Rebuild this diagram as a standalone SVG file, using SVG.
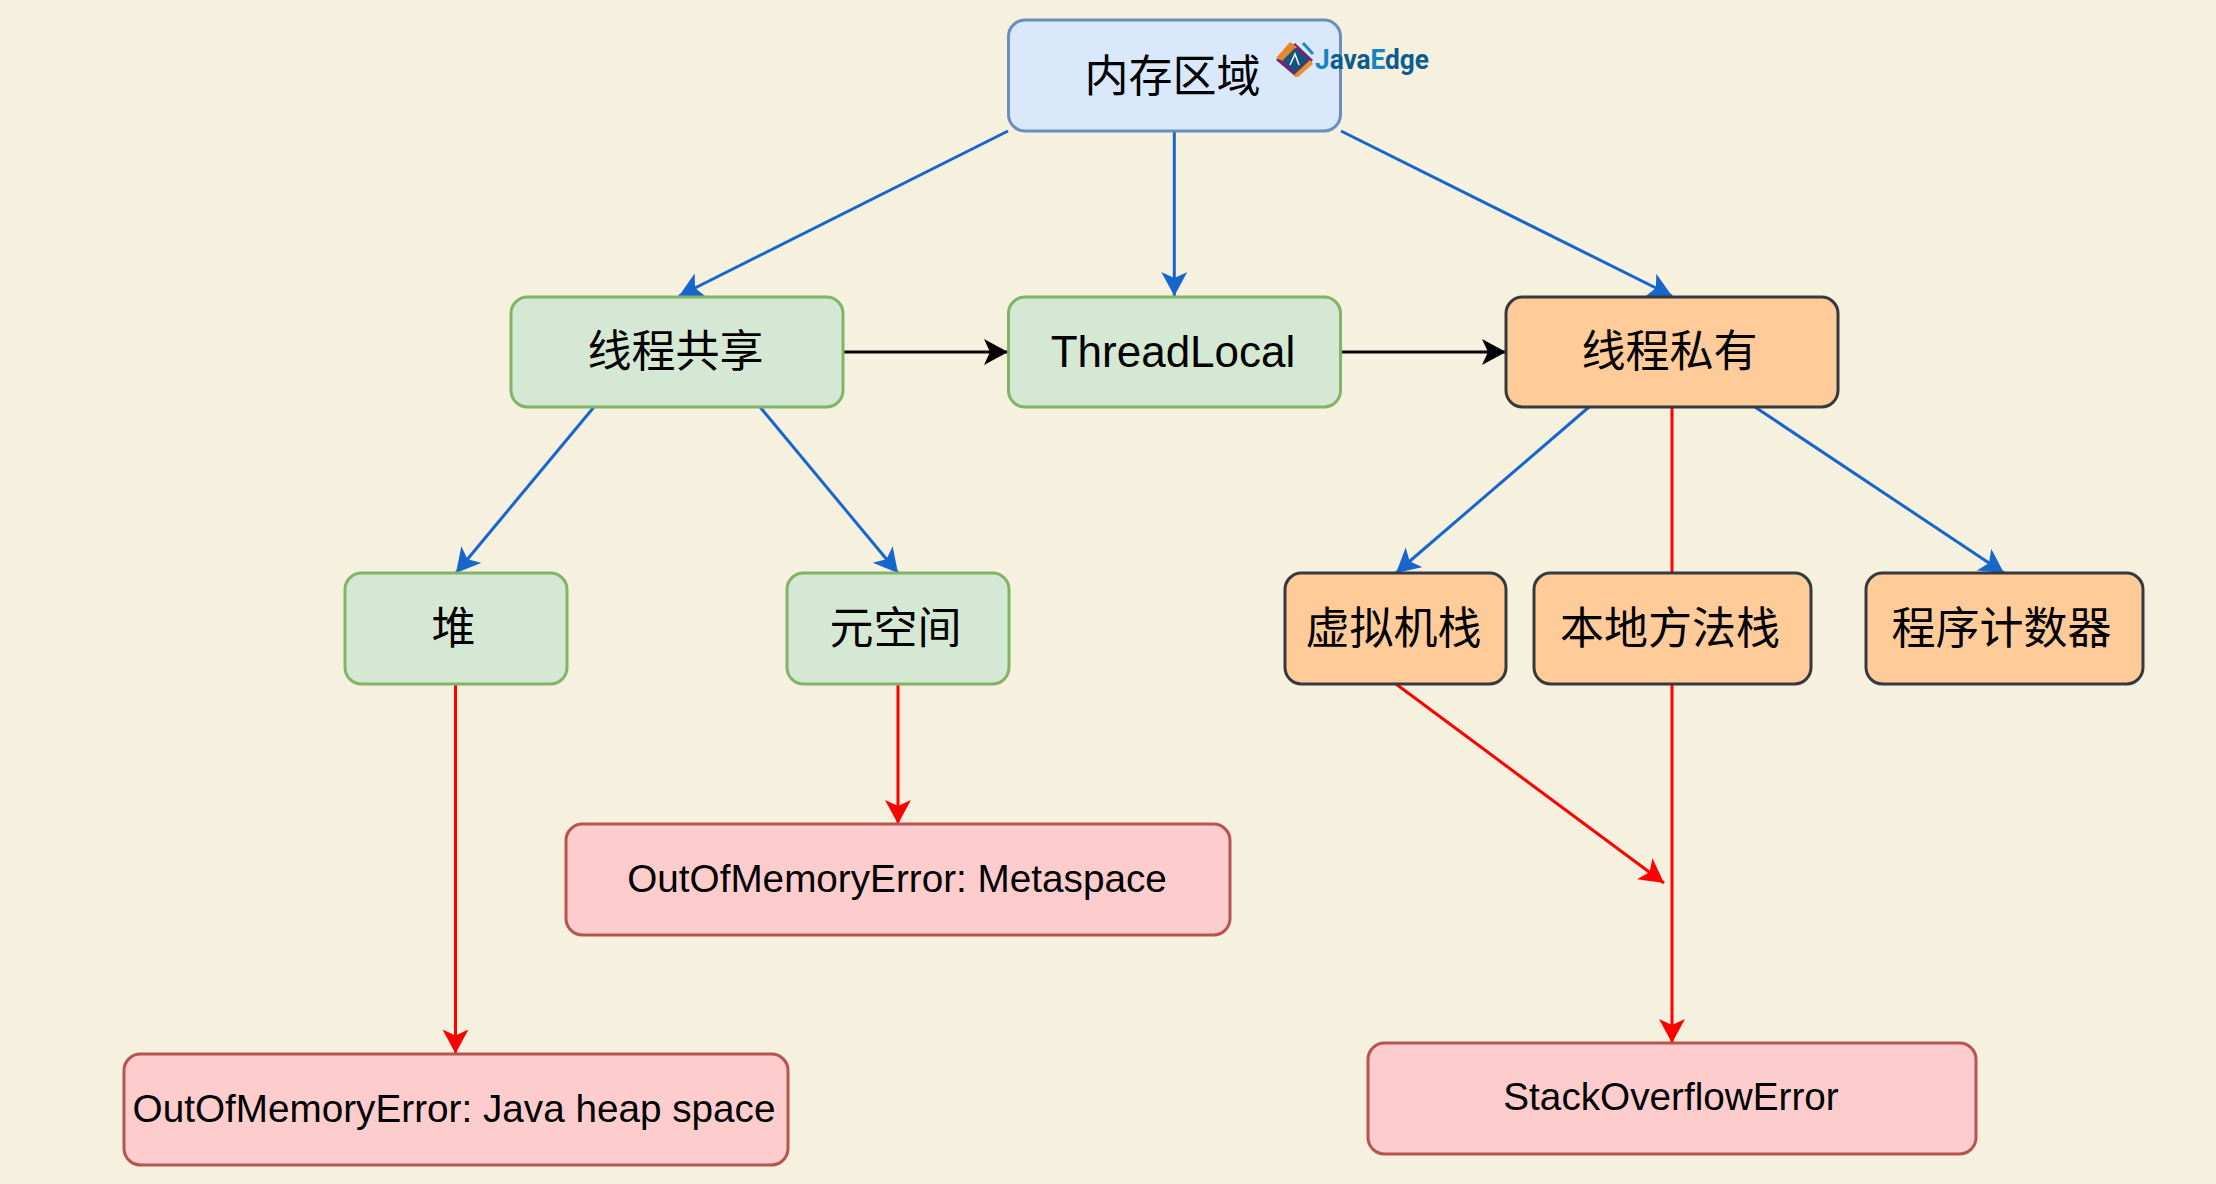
<svg xmlns="http://www.w3.org/2000/svg" width="2216" height="1184" viewBox="0 0 2216 1184">
<style>
.n{stroke-width:3}
.b{fill:#dae8fc;stroke:#6c8ebf}
.g{fill:#d5e8d4;stroke:#82b366}
.o{fill:#ffcc99;stroke:#36393d}
.r{fill:#fdcdce;stroke:#b85450}
text{font-family:"Liberation Sans","Noto Sans CJK SC",sans-serif;text-anchor:middle;fill:#000}
.l{font-size:44px}
.m{font-size:38.700px}
.c{font-family:"Noto Sans CJK SC","Liberation Sans",sans-serif}
.e{fill:none;stroke-width:3}
.eb{stroke:#1766cc;marker-end:url(#ab)}
.ek{stroke:#000;marker-end:url(#ak)}
.er{stroke:#ff0000;marker-end:url(#ar)}
.logo{font-family:Roboto,"Liberation Sans",sans-serif;font-weight:700;font-size:28px;text-anchor:start}
</style>
<defs>
<marker id="ab" markerUnits="userSpaceOnUse" markerWidth="26" markerHeight="28" refX="24" refY="13" orient="auto"><path d="M24 13L0 0L6 13L0 26Z" fill="#1766cc"/></marker>
<marker id="ak" markerUnits="userSpaceOnUse" markerWidth="26" markerHeight="28" refX="24" refY="13" orient="auto"><path d="M24 13L0 0L6 13L0 26Z" fill="#000"/></marker>
<marker id="ar" markerUnits="userSpaceOnUse" markerWidth="26" markerHeight="28" refX="24" refY="13" orient="auto"><path d="M24 13L0 0L6 13L0 26Z" fill="#ff0000"/></marker>
</defs>
<rect width="2216" height="1184" fill="#f6f0df"/>
<g id="connectors">
<path class="e eb" d="M1008 131L679 296"/>
<path class="e eb" d="M1174.300 131V296"/>
<path class="e eb" d="M1341 131L1672 296"/>
<path class="e ek" d="M843 352H1008"/>
<path class="e ek" d="M1341 352H1506"/>
<path class="e eb" d="M594 407L456 573"/>
<path class="e eb" d="M760 407L898 573"/>
<path class="e eb" d="M1589 407L1396 573"/>
<path class="e" stroke="#ff0000" d="M1672 407V573"/>
<path class="e eb" d="M1755 407L2004 573"/>
<path class="e er" d="M455.500 684V1053.500"/>
<path class="e er" d="M898 684V824"/>
<path class="e er" d="M1396 684L1664 883"/>
<path class="e er" d="M1672 684V1043"/>
</g>
<g id="n-memory"><rect class="n b" x="1008.500" y="20" width="332" height="111" rx="16.500"/><text class="l c" x="1172.500" y="92">内存区域</text></g>
<g id="n-shared"><rect class="n g" x="511" y="297" width="332" height="110" rx="16.500"/><text class="l c" x="675.500" y="367">线程共享</text></g>
<g id="n-threadlocal"><rect class="n g" x="1008.500" y="297" width="332" height="110" rx="16.500"/><text class="l" x="1173" y="367">ThreadLocal</text></g>
<g id="n-private"><rect class="n o" x="1506" y="297" width="332" height="110" rx="16.500"/><text class="l c" x="1669.500" y="367">线程私有</text></g>
<g id="n-heap"><rect class="n g" x="345" y="573" width="222" height="111" rx="16.500"/><text class="l c" x="453.500" y="644">堆</text></g>
<g id="n-meta"><rect class="n g" x="787" y="573" width="222" height="111" rx="16.500"/><text class="l c" x="895.500" y="644">元空间</text></g>
<g id="n-vmstack"><rect class="n o" x="1285" y="573" width="221" height="111" rx="16.500"/><text class="l c" x="1393.500" y="644">虚拟机栈</text></g>
<g id="n-native"><rect class="n o" x="1534" y="573" width="277" height="111" rx="16.500"/><text class="l c" x="1670" y="644">本地方法栈</text></g>
<g id="n-pc"><rect class="n o" x="1866" y="573" width="277" height="111" rx="16.500"/><text class="l c" x="2001.500" y="644">程序计数器</text></g>
<g id="n-oom-meta"><rect class="n r" x="566" y="824" width="664" height="111" rx="16.500"/><text class="m" x="897" y="892">OutOfMemoryError: Metaspace</text></g>
<g id="n-oom-heap"><rect class="n r" x="124" y="1054" width="664" height="111" rx="16.500"/><text class="m" x="454" y="1122">OutOfMemoryError: Java heap space</text></g>
<g id="n-soe"><rect class="n r" x="1368" y="1043" width="608" height="111" rx="16.500"/><text class="m" x="1671" y="1110">StackOverflowError</text></g>
<g id="logo">
<path d="M1295 43L1313 60L1296 77L1276 60Z" fill="#6a2a72"/>
<path d="M1276 58L1290 42L1297 47L1283 61Z" fill="#e8842c"/>
<path d="M1293 76L1310 60L1313 64L1298 77Z" fill="#e8942c"/>
<path d="M1295 48L1308 60L1295 72L1283 60Z" fill="#14527f"/>
<path d="M1303 43L1313 54" stroke="#1b8cc0" stroke-width="3" fill="none"/>
<path d="M1290 65L1295 54L1299 65" stroke="#ffffff" stroke-width="1.500" fill="none"/>
<text class="logo" x="1315" y="69" textLength="114" lengthAdjust="spacingAndGlyphs"><tspan style="fill:#1584c4">J</tspan><tspan style="fill:#0b5c90">ava</tspan><tspan style="fill:#1584c4">E</tspan><tspan style="fill:#0b5c90">dge</tspan></text>
</g>
</svg>
